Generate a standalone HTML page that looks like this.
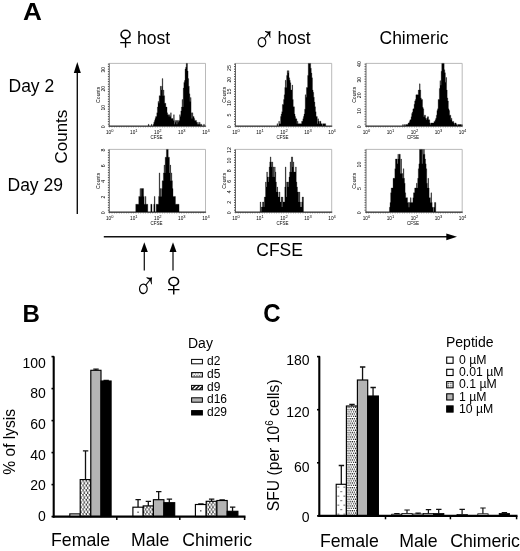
<!DOCTYPE html>
<html lang="en"><head><meta charset="utf-8"><title>Figure</title>
<style>
html,body{margin:0;padding:0;background:#fff;}
body{width:520px;height:551px;overflow:hidden;}
svg{display:block;}
svg text{fill:#000;}
</style></head><body>
<svg width="520" height="551" viewBox="0 0 520 551">
<rect width="520" height="551" fill="#fff"/>
<text x="0" y="0" font-size="24" font-weight="bold" font-family='"Liberation Sans", sans-serif' transform="translate(23.1 19.5) scale(1.09 1)">A</text>
<text x="22.6" y="322.0" font-size="24" text-anchor="start" font-weight="bold" font-family='"Liberation Sans", sans-serif'>B</text>
<text x="0" y="0" font-size="24" font-weight="bold" font-family='"Liberation Sans", sans-serif' transform="translate(263.2 322.4) scale(1 1.07)">C</text>
<text x="0" y="0" font-size="32" font-family='"Liberation Sans", "DejaVu Sans", sans-serif' transform="translate(111.44 48.95) scale(1.172 1.085)">♀</text>
<text x="137" y="44.2" font-size="17.5" text-anchor="start" font-weight="normal" font-family='"Liberation Sans", sans-serif'>host</text>
<text x="0" y="0" font-size="32" font-family='"Liberation Sans", "DejaVu Sans", sans-serif' transform="translate(252.39 51.56) scale(0.967 1.169)">♂</text>
<text x="277.5" y="44.2" font-size="17.5" text-anchor="start" font-weight="normal" font-family='"Liberation Sans", sans-serif'>host</text>
<text x="379.5" y="44" font-size="17.5" text-anchor="start" font-weight="normal" font-family='"Liberation Sans", sans-serif'>Chimeric</text>
<text x="8.5" y="92" font-size="17.5" text-anchor="start" font-weight="normal" font-family='"Liberation Sans", sans-serif'>Day 2</text>
<text x="7.5" y="191" font-size="17.5" text-anchor="start" font-weight="normal" font-family='"Liberation Sans", sans-serif'>Day 29</text>
<text x="67.3" y="136.6" font-size="17" text-anchor="middle" font-weight="normal" font-family='"Liberation Sans", sans-serif' transform="rotate(-90 67.3 136.6)">Counts</text>
<path d="M77.3,214V70" stroke="#111" stroke-width="1.4" fill="none"/>
<path d="M77.3,62L80.8,73H73.8Z" fill="#000"/>
<path d="M103.8,236.8H448" stroke="#111" stroke-width="1.4" fill="none"/>
<path d="M457,236.8L446.3,240.2V233.4Z" fill="#000"/>
<text x="256.3" y="256.3" font-size="17.5" text-anchor="start" font-weight="normal" font-family='"Liberation Sans", sans-serif'>CFSE</text>
<path d="M144.3,270.5V250" stroke="#111" stroke-width="1.25" fill="none"/>
<path d="M144.3,242.3L147.8,252H140.8Z" fill="#000"/>
<path d="M173,270.5V250" stroke="#111" stroke-width="1.25" fill="none"/>
<path d="M173,242.3L176.5,252H169.5Z" fill="#000"/>
<text x="0" y="0" font-size="32" font-family='"Liberation Sans", "DejaVu Sans", sans-serif' transform="translate(133.81 299.06) scale(0.982 1.219)">♂</text>
<text x="0" y="0" font-size="32" font-family='"Liberation Sans", "DejaVu Sans", sans-serif' transform="translate(158.78 295.64) scale(1.248 1.073)">♀</text>
<path d="M109.3,63.4H205.5V126.1" fill="none" stroke="#a8a8a8" stroke-width="0.8"/>
<path d="M109.3,63.4V126.1" fill="none" stroke="#333" stroke-width="0.75"/>
<path d="M108.39999999999999,63.699999999999996V126.1" fill="none" stroke="#222" stroke-width="1.0" stroke-dasharray="0.9 1.6"/>
<path d="M108.3,126.19999999999999H206.1" fill="none" stroke="#222" stroke-width="0.85"/>
<path d="M109.3,127.0H205.5" fill="none" stroke="#444" stroke-width="0.8" stroke-dasharray="0.6 1.8"/>
<path d="M109.30,126.10L148.38,126.10L148.38,124.20L148.98,124.20L148.98,126.10L151.39,126.10L151.39,124.20L151.99,124.20L151.99,126.10L153.19,126.10L153.19,124.20L153.79,124.20L153.79,122.30L154.39,122.30L154.39,120.40L155.00,120.40L155.00,118.50L155.60,118.50L155.60,116.60L156.80,116.60L156.80,112.80L157.40,112.80L157.40,107.10L158.00,107.10L158.00,101.40L158.60,101.40L158.60,103.30L159.20,103.30L159.20,95.70L160.41,95.70L160.41,86.20L161.01,86.20L161.01,90.00L161.61,90.00L161.61,86.20L162.21,86.20L162.21,78.60L162.81,78.60L162.81,95.70L163.41,95.70L163.41,90.00L164.01,90.00L164.01,95.70L164.62,95.70L164.62,103.30L165.82,103.30L165.82,107.10L167.02,107.10L167.02,112.80L167.62,112.80L167.62,114.70L168.82,114.70L168.82,116.60L169.43,116.60L169.43,114.70L170.03,114.70L170.03,116.60L170.63,116.60L170.63,112.80L171.23,112.80L171.23,118.50L173.03,118.50L173.03,120.40L173.63,120.40L173.63,114.70L174.24,114.70L174.24,124.20L174.84,124.20L174.84,120.40L175.44,120.40L175.44,122.30L176.04,122.30L176.04,120.40L176.64,120.40L176.64,124.20L177.24,124.20L177.24,120.40L177.84,120.40L177.84,122.30L178.44,122.30L178.44,120.40L179.65,120.40L179.65,114.70L180.25,114.70L180.25,116.60L180.85,116.60L180.85,110.90L181.45,110.90L181.45,107.10L182.05,107.10L182.05,99.50L182.65,99.50L182.65,107.10L183.25,107.10L183.25,88.10L183.86,88.10L183.86,82.40L184.46,82.40L184.46,80.50L185.06,80.50L185.06,69.10L185.66,69.10L185.66,67.20L186.26,67.20L186.26,63.40L187.46,63.40L187.46,71.00L188.06,71.00L188.06,78.60L188.67,78.60L188.67,86.20L189.27,86.20L189.27,93.80L189.87,93.80L189.87,101.40L190.47,101.40L190.47,97.60L191.07,97.60L191.07,112.80L191.67,112.80L191.67,118.50L192.27,118.50L192.27,112.80L192.87,112.80L192.87,116.60L194.08,116.60L194.08,118.50L194.68,118.50L194.68,120.40L196.48,120.40L196.48,122.30L197.08,122.30L197.08,124.20L197.68,124.20L197.68,122.30L198.29,122.30L198.29,124.20L199.49,124.20L199.49,122.30L200.09,122.30L200.09,124.20L200.69,124.20L200.69,126.10L201.29,126.10L201.29,124.20L201.89,124.20L201.89,126.10L203.70,126.10L203.70,124.20L204.30,124.20L204.30,126.10L205.50,126.10L205.50,126.10Z" fill="#000" stroke="#000" stroke-width="0.3"/>
<text x="104.7" y="126.7" font-size="5.2" text-anchor="middle" font-family='"Liberation Sans", sans-serif' fill="#111" transform="rotate(-90 104.7 126.7)">0</text>
<text x="104.7" y="107.7" font-size="5.2" text-anchor="middle" font-family='"Liberation Sans", sans-serif' fill="#111" transform="rotate(-90 104.7 107.7)">10</text>
<text x="104.7" y="88.7" font-size="5.2" text-anchor="middle" font-family='"Liberation Sans", sans-serif' fill="#111" transform="rotate(-90 104.7 88.7)">20</text>
<text x="104.7" y="69.7" font-size="5.2" text-anchor="middle" font-family='"Liberation Sans", sans-serif' fill="#111" transform="rotate(-90 104.7 69.7)">30</text>
<text x="99.7" y="94.8" font-size="5.1" text-anchor="middle" font-family='"Liberation Sans", sans-serif' fill="#111" transform="rotate(-90 99.7 94.8)">Counts</text>
<text x="109.7" y="134.0" font-size="4.7" text-anchor="middle" font-family='"Liberation Sans", sans-serif' fill="#111">10<tspan dy="-2.0" font-size="4">0</tspan></text>
<text x="133.8" y="134.0" font-size="4.7" text-anchor="middle" font-family='"Liberation Sans", sans-serif' fill="#111">10<tspan dy="-2.0" font-size="4">1</tspan></text>
<text x="157.8" y="134.0" font-size="4.7" text-anchor="middle" font-family='"Liberation Sans", sans-serif' fill="#111">10<tspan dy="-2.0" font-size="4">2</tspan></text>
<text x="181.8" y="134.0" font-size="4.7" text-anchor="middle" font-family='"Liberation Sans", sans-serif' fill="#111">10<tspan dy="-2.0" font-size="4">3</tspan></text>
<text x="205.9" y="134.0" font-size="4.7" text-anchor="middle" font-family='"Liberation Sans", sans-serif' fill="#111">10<tspan dy="-2.0" font-size="4">4</tspan></text>
<text x="156.4" y="139.3" font-size="4.5" text-anchor="middle" font-family='"Liberation Sans", sans-serif' fill="#111">CFSE</text>
<path d="M235.5,63.4H331.7V126.1" fill="none" stroke="#a8a8a8" stroke-width="0.8"/>
<path d="M235.5,63.4V126.1" fill="none" stroke="#333" stroke-width="0.75"/>
<path d="M234.6,63.699999999999996V126.1" fill="none" stroke="#222" stroke-width="1.0" stroke-dasharray="0.9 1.6"/>
<path d="M234.5,126.19999999999999H332.3" fill="none" stroke="#222" stroke-width="0.85"/>
<path d="M235.5,127.0H331.7" fill="none" stroke="#444" stroke-width="0.8" stroke-dasharray="0.6 1.8"/>
<path d="M235.50,126.10L276.99,126.10L276.99,123.69L277.59,123.69L277.59,126.10L278.79,126.10L278.79,121.28L279.39,121.28L279.39,123.69L280.59,123.69L280.59,116.45L281.19,116.45L281.19,114.04L281.80,114.04L281.80,111.63L282.40,111.63L282.40,104.40L283.60,104.40L283.60,99.57L284.20,99.57L284.20,94.75L284.80,94.75L284.80,87.52L285.40,87.52L285.40,80.28L286.00,80.28L286.00,87.52L286.61,87.52L286.61,75.46L287.21,75.46L287.21,70.63L287.81,70.63L287.81,73.05L288.41,73.05L288.41,70.63L289.01,70.63L289.01,77.87L289.61,77.87L289.61,80.28L290.21,80.28L290.21,82.69L290.81,82.69L290.81,89.93L292.02,89.93L292.02,85.10L292.62,85.10L292.62,99.57L293.22,99.57L293.22,106.81L294.42,106.81L294.42,114.04L295.02,114.04L295.02,116.45L295.62,116.45L295.62,118.87L296.83,118.87L296.83,123.69L297.43,123.69L297.43,121.28L298.03,121.28L298.03,123.69L301.64,123.69L301.64,121.28L302.84,121.28L302.84,118.87L303.44,118.87L303.44,116.45L304.04,116.45L304.04,114.04L304.64,114.04L304.64,109.22L305.25,109.22L305.25,94.75L305.85,94.75L305.85,97.16L306.45,97.16L306.45,87.52L307.65,87.52L307.65,75.46L308.25,75.46L308.25,63.40L310.66,63.40L310.66,68.22L311.26,68.22L311.26,73.05L311.86,73.05L311.86,77.87L312.46,77.87L312.46,89.93L313.06,89.93L313.06,92.34L313.66,92.34L313.66,97.16L314.26,97.16L314.26,101.98L314.87,101.98L314.87,106.81L315.47,106.81L315.47,111.63L316.07,111.63L316.07,116.45L317.27,116.45L317.27,123.69L317.87,123.69L317.87,118.87L318.47,118.87L318.47,121.28L319.07,121.28L319.07,123.69L319.68,123.69L319.68,121.28L320.88,121.28L320.88,123.69L322.08,123.69L322.08,126.10L322.68,126.10L322.68,123.69L325.69,123.69L325.69,126.10L331.70,126.10L331.70,126.10Z" fill="#000" stroke="#000" stroke-width="0.3"/>
<text x="230.9" y="126.7" font-size="5.2" text-anchor="middle" font-family='"Liberation Sans", sans-serif' fill="#111" transform="rotate(-90 230.9 126.7)">0</text>
<text x="230.9" y="115.0" font-size="5.2" text-anchor="middle" font-family='"Liberation Sans", sans-serif' fill="#111" transform="rotate(-90 230.9 115.0)">5</text>
<text x="230.9" y="103.2" font-size="5.2" text-anchor="middle" font-family='"Liberation Sans", sans-serif' fill="#111" transform="rotate(-90 230.9 103.2)">10</text>
<text x="230.9" y="91.5" font-size="5.2" text-anchor="middle" font-family='"Liberation Sans", sans-serif' fill="#111" transform="rotate(-90 230.9 91.5)">15</text>
<text x="230.9" y="79.7" font-size="5.2" text-anchor="middle" font-family='"Liberation Sans", sans-serif' fill="#111" transform="rotate(-90 230.9 79.7)">20</text>
<text x="230.9" y="68.0" font-size="5.2" text-anchor="middle" font-family='"Liberation Sans", sans-serif' fill="#111" transform="rotate(-90 230.9 68.0)">25</text>
<text x="225.9" y="94.8" font-size="5.1" text-anchor="middle" font-family='"Liberation Sans", sans-serif' fill="#111" transform="rotate(-90 225.9 94.8)">Counts</text>
<text x="235.9" y="134.0" font-size="4.7" text-anchor="middle" font-family='"Liberation Sans", sans-serif' fill="#111">10<tspan dy="-2.0" font-size="4">0</tspan></text>
<text x="259.9" y="134.0" font-size="4.7" text-anchor="middle" font-family='"Liberation Sans", sans-serif' fill="#111">10<tspan dy="-2.0" font-size="4">1</tspan></text>
<text x="284.0" y="134.0" font-size="4.7" text-anchor="middle" font-family='"Liberation Sans", sans-serif' fill="#111">10<tspan dy="-2.0" font-size="4">2</tspan></text>
<text x="308.0" y="134.0" font-size="4.7" text-anchor="middle" font-family='"Liberation Sans", sans-serif' fill="#111">10<tspan dy="-2.0" font-size="4">3</tspan></text>
<text x="332.1" y="134.0" font-size="4.7" text-anchor="middle" font-family='"Liberation Sans", sans-serif' fill="#111">10<tspan dy="-2.0" font-size="4">4</tspan></text>
<text x="282.6" y="139.3" font-size="4.5" text-anchor="middle" font-family='"Liberation Sans", sans-serif' fill="#111">CFSE</text>
<path d="M366,63.4H462.2V126.1" fill="none" stroke="#a8a8a8" stroke-width="0.8"/>
<path d="M366,63.4V126.1" fill="none" stroke="#333" stroke-width="0.75"/>
<path d="M365.1,63.699999999999996V126.1" fill="none" stroke="#222" stroke-width="1.0" stroke-dasharray="0.9 1.6"/>
<path d="M365,126.19999999999999H462.8" fill="none" stroke="#222" stroke-width="0.85"/>
<path d="M366,127.0H462.2" fill="none" stroke="#444" stroke-width="0.8" stroke-dasharray="0.6 1.8"/>
<path d="M366.00,126.10L402.68,126.10L402.68,124.53L403.28,124.53L403.28,126.10L404.48,126.10L404.48,124.53L405.08,124.53L405.08,126.10L405.68,126.10L405.68,124.53L408.09,124.53L408.09,122.96L409.29,122.96L409.29,121.40L409.89,121.40L409.89,119.83L411.09,119.83L411.09,116.69L411.69,116.69L411.69,113.56L412.30,113.56L412.30,111.99L412.90,111.99L412.90,108.86L414.10,108.86L414.10,104.16L414.70,104.16L414.70,101.02L415.30,101.02L415.30,99.45L415.90,99.45L415.90,94.75L418.31,94.75L418.31,90.05L419.51,90.05L419.51,83.78L420.11,83.78L420.11,90.05L420.71,90.05L420.71,97.88L421.31,97.88L421.31,99.45L422.52,99.45L422.52,107.29L423.12,107.29L423.12,108.86L423.72,108.86L423.72,116.69L424.32,116.69L424.32,115.13L425.52,115.13L425.52,118.26L426.12,118.26L426.12,119.83L426.73,119.83L426.73,118.26L427.33,118.26L427.33,116.69L428.53,116.69L428.53,119.83L429.73,119.83L429.73,122.96L430.33,122.96L430.33,124.53L430.94,124.53L430.94,122.96L433.94,122.96L433.94,121.40L435.14,121.40L435.14,119.83L435.75,119.83L435.75,118.26L436.35,118.26L436.35,115.13L436.95,115.13L436.95,110.42L437.55,110.42L437.55,108.86L438.15,108.86L438.15,99.45L439.35,99.45L439.35,88.48L439.95,88.48L439.95,80.64L440.56,80.64L440.56,85.34L441.16,85.34L441.16,71.24L441.76,71.24L441.76,63.40L444.16,63.40L444.16,69.67L444.76,69.67L444.76,72.80L445.37,72.80L445.37,82.21L445.97,82.21L445.97,77.51L446.57,77.51L446.57,90.05L447.17,90.05L447.17,97.88L447.77,97.88L447.77,101.02L448.37,101.02L448.37,108.86L448.97,108.86L448.97,110.42L449.57,110.42L449.57,115.13L450.78,115.13L450.78,119.83L451.38,119.83L451.38,118.26L451.98,118.26L451.98,121.40L453.78,121.40L453.78,122.96L454.38,122.96L454.38,124.53L454.99,124.53L454.99,122.96L456.19,122.96L456.19,124.53L457.39,124.53L457.39,126.10L457.99,126.10L457.99,124.53L461.00,124.53L461.00,126.10L461.60,126.10L461.60,124.53L462.20,124.53L462.20,126.10Z" fill="#000" stroke="#000" stroke-width="0.3"/>
<text x="361.4" y="126.7" font-size="5.2" text-anchor="middle" font-family='"Liberation Sans", sans-serif' fill="#111" transform="rotate(-90 361.4 126.7)">0</text>
<text x="361.4" y="111.0" font-size="5.2" text-anchor="middle" font-family='"Liberation Sans", sans-serif' fill="#111" transform="rotate(-90 361.4 111.0)">10</text>
<text x="361.4" y="95.3" font-size="5.2" text-anchor="middle" font-family='"Liberation Sans", sans-serif' fill="#111" transform="rotate(-90 361.4 95.3)">20</text>
<text x="361.4" y="79.7" font-size="5.2" text-anchor="middle" font-family='"Liberation Sans", sans-serif' fill="#111" transform="rotate(-90 361.4 79.7)">30</text>
<text x="361.4" y="64.0" font-size="5.2" text-anchor="middle" font-family='"Liberation Sans", sans-serif' fill="#111" transform="rotate(-90 361.4 64.0)">40</text>
<text x="356.4" y="94.8" font-size="5.1" text-anchor="middle" font-family='"Liberation Sans", sans-serif' fill="#111" transform="rotate(-90 356.4 94.8)">Counts</text>
<text x="366.4" y="134.0" font-size="4.7" text-anchor="middle" font-family='"Liberation Sans", sans-serif' fill="#111">10<tspan dy="-2.0" font-size="4">0</tspan></text>
<text x="390.4" y="134.0" font-size="4.7" text-anchor="middle" font-family='"Liberation Sans", sans-serif' fill="#111">10<tspan dy="-2.0" font-size="4">1</tspan></text>
<text x="414.5" y="134.0" font-size="4.7" text-anchor="middle" font-family='"Liberation Sans", sans-serif' fill="#111">10<tspan dy="-2.0" font-size="4">2</tspan></text>
<text x="438.5" y="134.0" font-size="4.7" text-anchor="middle" font-family='"Liberation Sans", sans-serif' fill="#111">10<tspan dy="-2.0" font-size="4">3</tspan></text>
<text x="462.6" y="134.0" font-size="4.7" text-anchor="middle" font-family='"Liberation Sans", sans-serif' fill="#111">10<tspan dy="-2.0" font-size="4">4</tspan></text>
<text x="413.1" y="139.3" font-size="4.5" text-anchor="middle" font-family='"Liberation Sans", sans-serif' fill="#111">CFSE</text>
<path d="M109.3,149.4H205.5V212.10000000000002" fill="none" stroke="#a8a8a8" stroke-width="0.8"/>
<path d="M109.3,149.4V212.10000000000002" fill="none" stroke="#333" stroke-width="0.75"/>
<path d="M108.39999999999999,149.70000000000002V212.10000000000002" fill="none" stroke="#222" stroke-width="1.0" stroke-dasharray="0.9 1.6"/>
<path d="M108.3,212.20000000000002H206.1" fill="none" stroke="#222" stroke-width="0.85"/>
<path d="M109.3,213.00000000000003H205.5" fill="none" stroke="#444" stroke-width="0.8" stroke-dasharray="0.6 1.8"/>
<path d="M109.30,212.10L135.75,212.10L135.75,204.26L138.76,204.26L138.76,196.43L139.96,196.43L139.96,188.59L140.56,188.59L140.56,196.43L141.17,196.43L141.17,188.59L143.57,188.59L143.57,196.43L144.17,196.43L144.17,204.26L145.38,204.26L145.38,196.43L145.98,196.43L145.98,204.26L147.78,204.26L147.78,212.10L150.79,212.10L150.79,204.26L151.99,204.26L151.99,212.10L153.79,212.10L153.79,204.26L154.39,204.26L154.39,196.43L155.00,196.43L155.00,212.10L156.20,212.10L156.20,204.26L158.60,204.26L158.60,196.43L159.20,196.43L159.20,172.91L159.81,172.91L159.81,196.43L160.41,196.43L160.41,188.59L161.01,188.59L161.01,196.43L161.61,196.43L161.61,188.59L162.21,188.59L162.21,180.75L163.41,180.75L163.41,172.91L164.01,172.91L164.01,165.08L164.62,165.08L164.62,172.91L165.22,172.91L165.22,157.24L166.42,157.24L166.42,149.40L168.22,149.40L168.22,157.24L169.43,157.24L169.43,172.91L170.03,172.91L170.03,165.08L170.63,165.08L170.63,180.75L171.23,180.75L171.23,172.91L171.83,172.91L171.83,180.75L172.43,180.75L172.43,188.59L173.03,188.59L173.03,196.43L175.44,196.43L175.44,204.26L179.05,204.26L179.05,212.10L205.50,212.10L205.50,212.10Z" fill="#000" stroke="#000" stroke-width="0.3"/>
<text x="104.7" y="212.7" font-size="5.2" text-anchor="middle" font-family='"Liberation Sans", sans-serif' fill="#111" transform="rotate(-90 104.7 212.7)">0</text>
<text x="104.7" y="197.0" font-size="5.2" text-anchor="middle" font-family='"Liberation Sans", sans-serif' fill="#111" transform="rotate(-90 104.7 197.0)">2</text>
<text x="104.7" y="181.4" font-size="5.2" text-anchor="middle" font-family='"Liberation Sans", sans-serif' fill="#111" transform="rotate(-90 104.7 181.4)">4</text>
<text x="104.7" y="165.7" font-size="5.2" text-anchor="middle" font-family='"Liberation Sans", sans-serif' fill="#111" transform="rotate(-90 104.7 165.7)">6</text>
<text x="104.7" y="150.0" font-size="5.2" text-anchor="middle" font-family='"Liberation Sans", sans-serif' fill="#111" transform="rotate(-90 104.7 150.0)">8</text>
<text x="99.7" y="180.8" font-size="5.1" text-anchor="middle" font-family='"Liberation Sans", sans-serif' fill="#111" transform="rotate(-90 99.7 180.8)">Counts</text>
<text x="109.7" y="220.0" font-size="4.7" text-anchor="middle" font-family='"Liberation Sans", sans-serif' fill="#111">10<tspan dy="-2.0" font-size="4">0</tspan></text>
<text x="133.8" y="220.0" font-size="4.7" text-anchor="middle" font-family='"Liberation Sans", sans-serif' fill="#111">10<tspan dy="-2.0" font-size="4">1</tspan></text>
<text x="157.8" y="220.0" font-size="4.7" text-anchor="middle" font-family='"Liberation Sans", sans-serif' fill="#111">10<tspan dy="-2.0" font-size="4">2</tspan></text>
<text x="181.8" y="220.0" font-size="4.7" text-anchor="middle" font-family='"Liberation Sans", sans-serif' fill="#111">10<tspan dy="-2.0" font-size="4">3</tspan></text>
<text x="205.9" y="220.0" font-size="4.7" text-anchor="middle" font-family='"Liberation Sans", sans-serif' fill="#111">10<tspan dy="-2.0" font-size="4">4</tspan></text>
<text x="156.4" y="225.3" font-size="4.5" text-anchor="middle" font-family='"Liberation Sans", sans-serif' fill="#111">CFSE</text>
<path d="M235.5,149.4H331.7V212.10000000000002" fill="none" stroke="#a8a8a8" stroke-width="0.8"/>
<path d="M235.5,149.4V212.10000000000002" fill="none" stroke="#333" stroke-width="0.75"/>
<path d="M234.6,149.70000000000002V212.10000000000002" fill="none" stroke="#222" stroke-width="1.0" stroke-dasharray="0.9 1.6"/>
<path d="M234.5,212.20000000000002H332.3" fill="none" stroke="#222" stroke-width="0.85"/>
<path d="M235.5,213.00000000000003H331.7" fill="none" stroke="#444" stroke-width="0.8" stroke-dasharray="0.6 1.8"/>
<path d="M235.50,212.10L260.15,212.10L260.15,202.07L260.75,202.07L260.75,212.10L261.35,212.10L261.35,207.08L262.56,207.08L262.56,202.07L263.76,202.07L263.76,207.08L264.36,207.08L264.36,197.05L265.56,197.05L265.56,182.00L266.16,182.00L266.16,187.02L266.76,187.02L266.76,171.97L267.37,171.97L267.37,176.99L267.97,176.99L267.97,182.00L268.57,182.00L268.57,176.99L269.17,176.99L269.17,166.96L269.77,166.96L269.77,161.94L270.37,161.94L270.37,156.92L270.97,156.92L270.97,161.94L271.57,161.94L271.57,166.96L272.18,166.96L272.18,161.94L272.78,161.94L272.78,176.99L273.38,176.99L273.38,166.96L273.98,166.96L273.98,176.99L274.58,176.99L274.58,166.96L275.18,166.96L275.18,171.97L275.78,171.97L275.78,182.00L276.38,182.00L276.38,192.04L276.99,192.04L276.99,187.02L277.59,187.02L277.59,192.04L278.19,192.04L278.19,197.05L279.39,197.05L279.39,192.04L279.99,192.04L279.99,202.07L281.19,202.07L281.19,197.05L281.80,197.05L281.80,207.08L282.40,207.08L282.40,197.05L283.00,197.05L283.00,202.07L284.80,202.07L284.80,187.02L285.40,187.02L285.40,166.96L286.00,166.96L286.00,197.05L286.61,197.05L286.61,182.00L287.81,182.00L287.81,187.02L288.41,187.02L288.41,182.00L289.01,182.00L289.01,176.99L289.61,176.99L289.61,171.97L290.21,171.97L290.21,161.94L290.81,161.94L290.81,171.97L291.42,171.97L291.42,156.92L292.62,156.92L292.62,166.96L293.22,166.96L293.22,161.94L293.82,161.94L293.82,171.97L295.62,171.97L295.62,166.96L296.23,166.96L296.23,182.00L296.83,182.00L296.83,187.02L297.43,187.02L297.43,192.04L298.63,192.04L298.63,202.07L299.23,202.07L299.23,192.04L299.83,192.04L299.83,202.07L300.44,202.07L300.44,207.08L301.64,207.08L301.64,202.07L302.24,202.07L302.24,197.05L303.44,197.05L303.44,212.10L331.70,212.10L331.70,212.10Z" fill="#000" stroke="#000" stroke-width="0.3"/>
<text x="230.9" y="212.7" font-size="5.2" text-anchor="middle" font-family='"Liberation Sans", sans-serif' fill="#111" transform="rotate(-90 230.9 212.7)">0</text>
<text x="230.9" y="202.3" font-size="5.2" text-anchor="middle" font-family='"Liberation Sans", sans-serif' fill="#111" transform="rotate(-90 230.9 202.3)">2</text>
<text x="230.9" y="191.8" font-size="5.2" text-anchor="middle" font-family='"Liberation Sans", sans-serif' fill="#111" transform="rotate(-90 230.9 191.8)">4</text>
<text x="230.9" y="181.4" font-size="5.2" text-anchor="middle" font-family='"Liberation Sans", sans-serif' fill="#111" transform="rotate(-90 230.9 181.4)">6</text>
<text x="230.9" y="170.9" font-size="5.2" text-anchor="middle" font-family='"Liberation Sans", sans-serif' fill="#111" transform="rotate(-90 230.9 170.9)">8</text>
<text x="230.9" y="160.5" font-size="5.2" text-anchor="middle" font-family='"Liberation Sans", sans-serif' fill="#111" transform="rotate(-90 230.9 160.5)">10</text>
<text x="230.9" y="150.0" font-size="5.2" text-anchor="middle" font-family='"Liberation Sans", sans-serif' fill="#111" transform="rotate(-90 230.9 150.0)">12</text>
<text x="225.9" y="180.8" font-size="5.1" text-anchor="middle" font-family='"Liberation Sans", sans-serif' fill="#111" transform="rotate(-90 225.9 180.8)">Counts</text>
<text x="235.9" y="220.0" font-size="4.7" text-anchor="middle" font-family='"Liberation Sans", sans-serif' fill="#111">10<tspan dy="-2.0" font-size="4">0</tspan></text>
<text x="259.9" y="220.0" font-size="4.7" text-anchor="middle" font-family='"Liberation Sans", sans-serif' fill="#111">10<tspan dy="-2.0" font-size="4">1</tspan></text>
<text x="284.0" y="220.0" font-size="4.7" text-anchor="middle" font-family='"Liberation Sans", sans-serif' fill="#111">10<tspan dy="-2.0" font-size="4">2</tspan></text>
<text x="308.0" y="220.0" font-size="4.7" text-anchor="middle" font-family='"Liberation Sans", sans-serif' fill="#111">10<tspan dy="-2.0" font-size="4">3</tspan></text>
<text x="332.1" y="220.0" font-size="4.7" text-anchor="middle" font-family='"Liberation Sans", sans-serif' fill="#111">10<tspan dy="-2.0" font-size="4">4</tspan></text>
<text x="282.6" y="225.3" font-size="4.5" text-anchor="middle" font-family='"Liberation Sans", sans-serif' fill="#111">CFSE</text>
<path d="M366,149.4H462.2V212.10000000000002" fill="none" stroke="#a8a8a8" stroke-width="0.8"/>
<path d="M366,149.4V212.10000000000002" fill="none" stroke="#333" stroke-width="0.75"/>
<path d="M365.1,149.70000000000002V212.10000000000002" fill="none" stroke="#222" stroke-width="1.0" stroke-dasharray="0.9 1.6"/>
<path d="M365,212.20000000000002H462.8" fill="none" stroke="#222" stroke-width="0.85"/>
<path d="M366,213.00000000000003H462.2" fill="none" stroke="#444" stroke-width="0.8" stroke-dasharray="0.6 1.8"/>
<path d="M366.00,212.10L389.45,212.10L389.45,207.28L390.05,207.28L390.05,202.45L390.65,202.45L390.65,192.81L391.25,192.81L391.25,187.98L393.06,187.98L393.06,178.34L394.86,178.34L394.86,168.69L395.46,168.69L395.46,159.05L397.26,159.05L397.26,163.87L397.87,163.87L397.87,154.22L398.47,154.22L398.47,159.05L399.07,159.05L399.07,154.22L400.27,154.22L400.27,173.52L400.87,173.52L400.87,159.05L401.47,159.05L401.47,173.52L402.68,173.52L402.68,178.34L403.28,178.34L403.28,168.69L403.88,168.69L403.88,178.34L404.48,178.34L404.48,183.16L405.08,183.16L405.08,192.81L405.68,192.81L405.68,197.63L407.49,197.63L407.49,202.45L408.69,202.45L408.69,207.28L409.29,207.28L409.29,202.45L410.49,202.45L410.49,197.63L411.09,197.63L411.09,202.45L412.90,202.45L412.90,197.63L413.50,197.63L413.50,192.81L414.70,192.81L414.70,187.98L416.50,187.98L416.50,183.16L417.11,183.16L417.11,187.98L417.71,187.98L417.71,178.34L418.31,178.34L418.31,168.69L418.91,168.69L418.91,163.87L419.51,163.87L419.51,149.40L421.92,149.40L421.92,163.87L422.52,163.87L422.52,149.40L423.12,149.40L423.12,154.22L423.72,154.22L423.72,149.40L424.32,149.40L424.32,154.22L424.92,154.22L424.92,159.05L425.52,159.05L425.52,163.87L426.12,163.87L426.12,168.69L426.73,168.69L426.73,183.16L427.33,183.16L427.33,187.98L427.93,187.98L427.93,178.34L428.53,178.34L428.53,187.98L429.13,187.98L429.13,197.63L430.33,197.63L430.33,202.45L430.94,202.45L430.94,192.81L431.54,192.81L431.54,202.45L432.14,202.45L432.14,207.28L433.34,207.28L433.34,212.10L433.94,212.10L433.94,207.28L434.54,207.28L434.54,202.45L435.75,202.45L435.75,212.10L462.20,212.10L462.20,212.10Z" fill="#000" stroke="#000" stroke-width="0.3"/>
<text x="361.4" y="212.7" font-size="5.2" text-anchor="middle" font-family='"Liberation Sans", sans-serif' fill="#111" transform="rotate(-90 361.4 212.7)">0</text>
<text x="361.4" y="188.6" font-size="5.2" text-anchor="middle" font-family='"Liberation Sans", sans-serif' fill="#111" transform="rotate(-90 361.4 188.6)">5</text>
<text x="361.4" y="164.5" font-size="5.2" text-anchor="middle" font-family='"Liberation Sans", sans-serif' fill="#111" transform="rotate(-90 361.4 164.5)">10</text>
<text x="356.4" y="180.8" font-size="5.1" text-anchor="middle" font-family='"Liberation Sans", sans-serif' fill="#111" transform="rotate(-90 356.4 180.8)">Counts</text>
<text x="366.4" y="220.0" font-size="4.7" text-anchor="middle" font-family='"Liberation Sans", sans-serif' fill="#111">10<tspan dy="-2.0" font-size="4">0</tspan></text>
<text x="390.4" y="220.0" font-size="4.7" text-anchor="middle" font-family='"Liberation Sans", sans-serif' fill="#111">10<tspan dy="-2.0" font-size="4">1</tspan></text>
<text x="414.5" y="220.0" font-size="4.7" text-anchor="middle" font-family='"Liberation Sans", sans-serif' fill="#111">10<tspan dy="-2.0" font-size="4">2</tspan></text>
<text x="438.5" y="220.0" font-size="4.7" text-anchor="middle" font-family='"Liberation Sans", sans-serif' fill="#111">10<tspan dy="-2.0" font-size="4">3</tspan></text>
<text x="462.6" y="220.0" font-size="4.7" text-anchor="middle" font-family='"Liberation Sans", sans-serif' fill="#111">10<tspan dy="-2.0" font-size="4">4</tspan></text>
<text x="413.1" y="225.3" font-size="4.5" text-anchor="middle" font-family='"Liberation Sans", sans-serif' fill="#111">CFSE</text>
<defs>
<pattern id="pdots" x="80.3" y="479.6" width="3.3" height="4.8" patternUnits="userSpaceOnUse"><rect width="3.3" height="4.8" fill="#3c3c3c"/><circle cx="0.85" cy="1.2" r="1.32" fill="#fff"/><circle cx="2.5" cy="3.6" r="1.32" fill="#fff"/></pattern>
<pattern id="pdots2" x="346.3" y="406" width="2.2" height="4.6" patternUnits="userSpaceOnUse"><rect width="2.2" height="4.6" fill="#fff"/><circle cx="0.55" cy="1.15" r="0.7" fill="#000"/><circle cx="1.65" cy="3.45" r="0.7" fill="#000"/></pattern>
<pattern id="psparse" x="336.3" y="484" width="6" height="9" patternUnits="userSpaceOnUse"><rect width="6" height="9" fill="#fff"/><rect x="1.5" y="2.6" width="1.1" height="1.1" fill="#111"/><rect x="4.4" y="7.1" width="1.1" height="1.1" fill="#111"/></pattern>
<pattern id="phatch" x="191" y="384" width="4" height="4" patternUnits="userSpaceOnUse"><rect width="4" height="4" fill="#fff"/><path d="M-1,3L3,-1M1,5L5,1" stroke="#111" stroke-width="1.5"/></pattern>
<pattern id="plegd5" x="192.1" y="372.6" width="2.7" height="4.4" patternUnits="userSpaceOnUse"><rect width="2.7" height="4.4" fill="#fff"/><circle cx="0.7" cy="1.2" r="0.62" fill="#111"/><circle cx="2.05" cy="3.2" r="0.62" fill="#111"/></pattern>
<pattern id="plegc" x="447" y="382" width="2.6" height="2.6" patternUnits="userSpaceOnUse"><rect width="2.6" height="2.6" fill="#fff"/><circle cx="1.3" cy="1.3" r="0.75" fill="#222"/></pattern>
</defs>
<path d="M51.5,516.6H54" stroke="#000" stroke-width="1.6"/>
<text x="45.9" y="520.8" font-size="14.0" text-anchor="end" font-weight="normal" font-family='"Liberation Sans", sans-serif'>0</text>
<path d="M51.5,484.6H54" stroke="#000" stroke-width="1.6"/>
<text x="45.9" y="490.2" font-size="14.0" text-anchor="end" font-weight="normal" font-family='"Liberation Sans", sans-serif'>20</text>
<path d="M51.5,452.6H54" stroke="#000" stroke-width="1.6"/>
<text x="45.9" y="459.6" font-size="14.0" text-anchor="end" font-weight="normal" font-family='"Liberation Sans", sans-serif'>40</text>
<path d="M51.5,420.6H54" stroke="#000" stroke-width="1.6"/>
<text x="45.9" y="429.0" font-size="14.0" text-anchor="end" font-weight="normal" font-family='"Liberation Sans", sans-serif'>60</text>
<path d="M51.5,388.6H54" stroke="#000" stroke-width="1.6"/>
<text x="45.9" y="398.4" font-size="14.0" text-anchor="end" font-weight="normal" font-family='"Liberation Sans", sans-serif'>80</text>
<path d="M51.5,356.6H54" stroke="#000" stroke-width="1.6"/>
<text x="45.9" y="367.8" font-size="14.0" text-anchor="end" font-weight="normal" font-family='"Liberation Sans", sans-serif'>100</text>
<path d="M116.8,516.6V520.0" stroke="#000" stroke-width="1.5"/>
<path d="M179.8,516.6V520.0" stroke="#000" stroke-width="1.5"/>
<path d="M244.6,516.6V520.0" stroke="#000" stroke-width="1.5"/>
<text x="14.6" y="441.8" font-size="15.6" text-anchor="middle" font-weight="normal" font-family='"Liberation Sans", sans-serif' transform="rotate(-90 14.6 441.8)">% of lysis</text>
<rect x="69.80" y="513.90" width="10.40" height="2.70" fill="#fff" stroke="#000" stroke-width="1.15"/>
<path d="M85.50,479.60V450.80M82.90,450.80H88.30" stroke="#111" stroke-width="1.3" fill="none"/>
<rect x="80.20" y="479.60" width="10.60" height="37.00" fill="url(#pdots)" stroke="#000" stroke-width="1.15"/>
<path d="M95.90,370.30V369.20M93.30,369.20H98.70" stroke="#111" stroke-width="1.3" fill="none"/>
<rect x="90.80" y="370.30" width="10.20" height="146.30" fill="#b4b4b4" stroke="#000" stroke-width="1.15"/>
<path d="M106.05,381.00V380.50M103.45,380.50H108.85" stroke="#111" stroke-width="1.3" fill="none"/>
<rect x="101.00" y="381.00" width="10.10" height="135.60" fill="#000" stroke="#000" stroke-width="1.15"/>
<path d="M138.05,507.20V499.70M135.45,499.70H140.85" stroke="#111" stroke-width="1.3" fill="none"/>
<rect x="132.90" y="507.20" width="10.30" height="9.40" fill="#fff" stroke="#000" stroke-width="1.15"/>
<rect x="137.45" y="511.60" width="1.2" height="1.2" fill="#111"/>
<path d="M148.30,505.90V501.30M145.70,501.30H151.10" stroke="#111" stroke-width="1.3" fill="none"/>
<rect x="143.20" y="505.90" width="10.20" height="10.70" fill="url(#pdots)" stroke="#000" stroke-width="1.15"/>
<path d="M158.65,499.70V491.60M156.05,491.60H161.45" stroke="#111" stroke-width="1.3" fill="none"/>
<rect x="153.40" y="499.70" width="10.50" height="16.90" fill="#b4b4b4" stroke="#000" stroke-width="1.15"/>
<path d="M169.30,502.70V499.20M166.70,499.20H172.10" stroke="#111" stroke-width="1.3" fill="none"/>
<rect x="163.90" y="502.70" width="10.80" height="13.90" fill="#000" stroke="#000" stroke-width="1.15"/>
<path d="M200.80,504.50V503.80M198.20,503.80H203.60" stroke="#111" stroke-width="1.3" fill="none"/>
<rect x="195.40" y="504.50" width="10.80" height="12.10" fill="#fff" stroke="#000" stroke-width="1.15"/>
<rect x="200.20" y="510.25" width="1.2" height="1.2" fill="#111"/>
<path d="M211.55,501.30V499.20M208.95,499.20H214.35" stroke="#111" stroke-width="1.3" fill="none"/>
<rect x="206.20" y="501.30" width="10.70" height="15.30" fill="url(#pdots)" stroke="#000" stroke-width="1.15"/>
<path d="M222.05,500.50V499.90M219.45,499.90H224.85" stroke="#111" stroke-width="1.3" fill="none"/>
<rect x="216.90" y="500.50" width="10.30" height="16.10" fill="#b4b4b4" stroke="#000" stroke-width="1.15"/>
<path d="M232.55,511.30V507.20M229.95,507.20H235.35" stroke="#111" stroke-width="1.3" fill="none"/>
<rect x="227.20" y="511.30" width="10.70" height="5.30" fill="#000" stroke="#000" stroke-width="1.15"/>
<path d="M53.7,356.3V517.5500000000001" stroke="#000" stroke-width="2.1" fill="none"/>
<path d="M52.75,516.6H245.5" stroke="#000" stroke-width="2.1" fill="none"/>
<text x="51" y="546.3" font-size="17.7" text-anchor="start" font-weight="normal" font-family='"Liberation Sans", sans-serif'>Female</text>
<text x="131" y="546.3" font-size="17.7" text-anchor="start" font-weight="normal" font-family='"Liberation Sans", sans-serif'>Male</text>
<text x="182.3" y="546.3" font-size="17.7" text-anchor="start" font-weight="normal" font-family='"Liberation Sans", sans-serif'>Chimeric</text>
<text x="188" y="347.8" font-size="14" text-anchor="start" font-weight="normal" font-family='"Liberation Sans", sans-serif'>Day</text>
<rect x="191.6" y="359.4" width="10.8" height="4.4" fill="#fff" stroke="#000" stroke-width="1"/>
<text x="207" y="364.8" font-size="12" text-anchor="start" font-weight="normal" font-family='"Liberation Sans", sans-serif'>d2</text>
<rect x="191.6" y="372.6" width="10.8" height="4.4" fill="url(#plegd5)" stroke="#000" stroke-width="1"/>
<text x="207" y="377.8" font-size="12" text-anchor="start" font-weight="normal" font-family='"Liberation Sans", sans-serif'>d5</text>
<rect x="191.6" y="385.4" width="10.8" height="4.4" fill="url(#phatch)" stroke="#000" stroke-width="1"/>
<text x="207" y="390.5" font-size="12" text-anchor="start" font-weight="normal" font-family='"Liberation Sans", sans-serif'>d9</text>
<rect x="191.6" y="397.8" width="10.8" height="4.4" fill="#b4b4b4" stroke="#000" stroke-width="1"/>
<text x="207" y="403.2" font-size="12" text-anchor="start" font-weight="normal" font-family='"Liberation Sans", sans-serif'>d16</text>
<rect x="191.6" y="410.6" width="10.8" height="4.4" fill="#000" stroke="#000" stroke-width="1"/>
<text x="207" y="416.0" font-size="12" text-anchor="start" font-weight="normal" font-family='"Liberation Sans", sans-serif'>d29</text>
<path d="M317,515.9H320" stroke="#000" stroke-width="1.6"/>
<text x="309.6" y="522.4499999999999" font-size="14.0" text-anchor="end" font-weight="normal" font-family='"Liberation Sans", sans-serif'>0</text>
<path d="M317,462.8H320" stroke="#000" stroke-width="1.6"/>
<text x="309.6" y="471.65000000000003" font-size="14.0" text-anchor="end" font-weight="normal" font-family='"Liberation Sans", sans-serif'>60</text>
<path d="M317,409.7H320" stroke="#000" stroke-width="1.6"/>
<text x="309.6" y="416.65000000000003" font-size="14.0" text-anchor="end" font-weight="normal" font-family='"Liberation Sans", sans-serif'>120</text>
<path d="M317,356.6H320" stroke="#000" stroke-width="1.6"/>
<text x="309.6" y="365.45" font-size="14.0" text-anchor="end" font-weight="normal" font-family='"Liberation Sans", sans-serif'>180</text>
<path d="M385.5,515.9V519.3" stroke="#000" stroke-width="1.5"/>
<path d="M450.4,515.9V519.3" stroke="#000" stroke-width="1.5"/>
<path d="M516.6,515.9V519.3" stroke="#000" stroke-width="1.5"/>
<text x="278.6" y="445.3" font-size="15.7" text-anchor="middle" font-family='"Liberation Sans", sans-serif' transform="rotate(-90 278.6 445.3)">SFU (per 10<tspan dy="-5.5" font-size="10">6</tspan><tspan dy="5.5"> cells)</tspan></text>
<path d="M341.30,484.30V465.50M338.70,465.50H344.10" stroke="#111" stroke-width="1.3" fill="none"/>
<rect x="336.20" y="484.30" width="10.20" height="31.60" fill="url(#psparse)" stroke="#000" stroke-width="1.15"/>
<path d="M351.90,406.00V404.30M349.30,404.30H354.70" stroke="#111" stroke-width="1.3" fill="none"/>
<rect x="346.40" y="406.00" width="11.00" height="109.90" fill="url(#pdots2)" stroke="#000" stroke-width="1.15"/>
<path d="M362.55,380.00V367.00M359.95,367.00H365.35" stroke="#111" stroke-width="1.3" fill="none"/>
<rect x="357.40" y="380.00" width="10.30" height="135.90" fill="#b4b4b4" stroke="#000" stroke-width="1.15"/>
<path d="M373.05,396.00V387.50M370.45,387.50H375.85" stroke="#111" stroke-width="1.3" fill="none"/>
<rect x="367.70" y="396.00" width="10.70" height="119.90" fill="#000" stroke="#000" stroke-width="1.15"/>
<path d="M396.8,514.2V513.5M394.2,513.5H399.6" stroke="#111" stroke-width="1.2" fill="none"/>
<rect x="391.7" y="514.2" width="10.3" height="1.7" fill="#fff" stroke="#000" stroke-width="0.8"/>
<path d="M407.0,513.4V510.0M404.4,510.0H409.8" stroke="#111" stroke-width="1.2" fill="none"/>
<rect x="401.9" y="513.4" width="10.3" height="2.5" fill="#fff" stroke="#000" stroke-width="0.8"/>
<path d="M418.0,514.0V513.2M415.4,513.2H420.8" stroke="#111" stroke-width="1.2" fill="none"/>
<rect x="412.9" y="514.0" width="10.3" height="1.9" fill="#fff" stroke="#000" stroke-width="0.8"/>
<path d="M428.4,513.6V509.6M425.8,509.6H431.2" stroke="#111" stroke-width="1.2" fill="none"/>
<rect x="423.2" y="513.6" width="10.3" height="2.3" fill="#b4b4b4" stroke="#000" stroke-width="0.8"/>
<path d="M438.7,513.5V509.3M436.1,509.3H441.5" stroke="#111" stroke-width="1.2" fill="none"/>
<rect x="433.6" y="513.5" width="10.3" height="2.4" fill="#000" stroke="#000" stroke-width="0.8"/>
<path d="M462.1,514.4V509.3M459.5,509.3H464.9" stroke="#111" stroke-width="1.2" fill="none"/>
<rect x="457.0" y="514.4" width="10.3" height="1.5" fill="#fff" stroke="#000" stroke-width="0.8"/>
<path d="M482.9,513.8V508.0M480.3,508.0H485.7" stroke="#111" stroke-width="1.2" fill="none"/>
<rect x="477.8" y="513.8" width="10.3" height="2.1" fill="#fff" stroke="#000" stroke-width="0.8"/>
<path d="M504.3,513.5V512.6M501.7,512.6H507.1" stroke="#111" stroke-width="1.2" fill="none"/>
<rect x="499.2" y="513.5" width="10.3" height="2.4" fill="#000" stroke="#000" stroke-width="0.8"/>
<path d="M319.3,356.3V516.85" stroke="#000" stroke-width="2.1" fill="none"/>
<path d="M318.35,515.9H517.5" stroke="#000" stroke-width="2.1" fill="none"/>
<text x="319.9" y="546.7" font-size="17.7" text-anchor="start" font-weight="normal" font-family='"Liberation Sans", sans-serif'>Female</text>
<text x="399.2" y="546.7" font-size="17.7" text-anchor="start" font-weight="normal" font-family='"Liberation Sans", sans-serif'>Male</text>
<text x="450.2" y="546.7" font-size="17.7" text-anchor="start" font-weight="normal" font-family='"Liberation Sans", sans-serif'>Chimeric</text>
<text x="446" y="346.8" font-size="14" text-anchor="start" font-weight="normal" font-family='"Liberation Sans", sans-serif'>Peptide</text>
<rect x="446.7" y="357.1" width="6.4" height="6.2" fill="#fff" stroke="#000" stroke-width="1.1"/>
<text x="459" y="363.9" font-size="12.25" text-anchor="start" font-weight="normal" font-family='"Liberation Sans", sans-serif'>0 µM</text>
<rect x="446.7" y="369.3" width="6.4" height="6.2" fill="#fff" stroke="#000" stroke-width="1.1"/>
<text x="459" y="376.1" font-size="12.25" text-anchor="start" font-weight="normal" font-family='"Liberation Sans", sans-serif'>0.01 µM</text>
<rect x="446.7" y="381.6" width="6.4" height="6.2" fill="url(#plegc)" stroke="#000" stroke-width="1.1"/>
<text x="459" y="388.3" font-size="12.25" text-anchor="start" font-weight="normal" font-family='"Liberation Sans", sans-serif'>0.1 µM</text>
<rect x="446.7" y="393.8" width="6.4" height="6.2" fill="#b4b4b4" stroke="#000" stroke-width="1.1"/>
<text x="459" y="400.5" font-size="12.25" text-anchor="start" font-weight="normal" font-family='"Liberation Sans", sans-serif'>1 µM</text>
<rect x="446.7" y="405.9" width="6.4" height="6.2" fill="#000" stroke="#000" stroke-width="1.1"/>
<text x="459" y="412.6" font-size="12.25" text-anchor="start" font-weight="normal" font-family='"Liberation Sans", sans-serif'>10 µM</text>
</svg>
</body></html>
